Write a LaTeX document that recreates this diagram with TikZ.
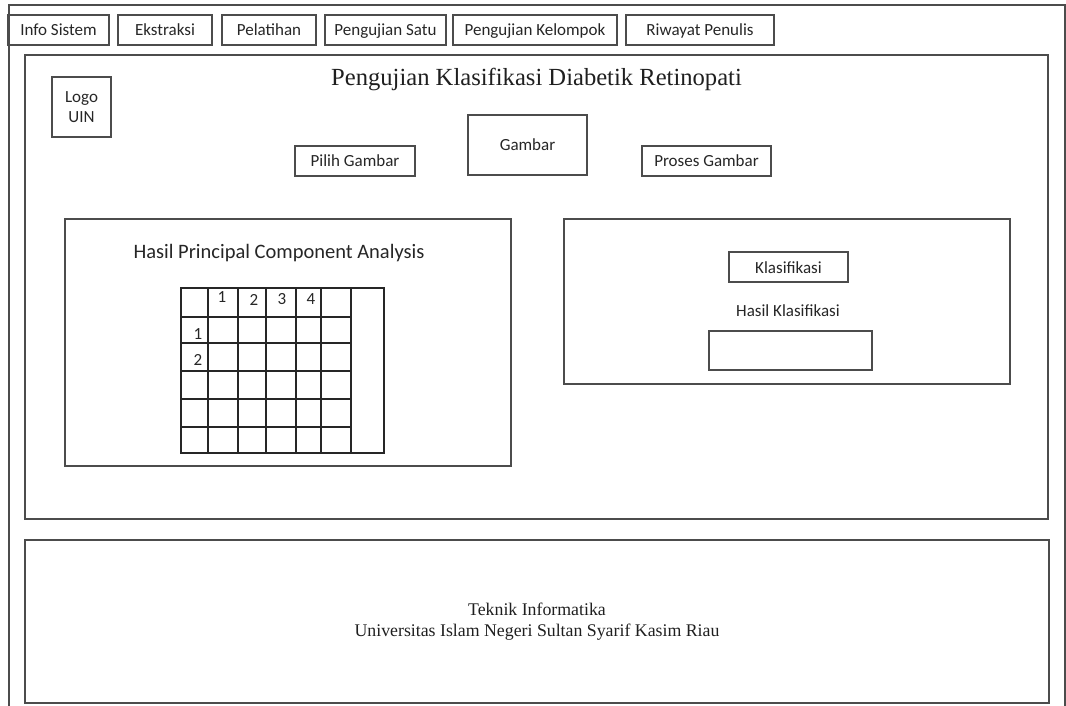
\documentclass[tikz,border=0pt]{standalone}
\usepackage{fontspec}
\setmainfont{Liberation Serif}
\newfontfamily\calibrifont{Carlito}
\begin{document}
\begin{tikzpicture}[x=1pt,y=-1pt,
  line/.style={draw=black!70, line width=1.3pt},
  panel/.style={line, inner sep=0pt},
  btn/.style={line, inner sep=0pt, text height=12pt, text depth=0pt,
    font=\calibrifont\fontsize{17}{20}\selectfont, text=black!85},
  lbl/.style={inner sep=0pt, font=\calibrifont\fontsize{17}{20}\selectfont, text=black!85},
  cell/.style={draw=black!85, line width=1.2pt}
]
\useasboundingbox (0,0) rectangle (1066,706);

% window frame (bottom edge runs past the page)
\draw[line] (9,712) -- (9,5) -- (1065,5) -- (1065,712);

% menu tabs
\node[btn, minimum width=101pt, minimum height=30pt] (tInfo)   at (58.5,30)  {Info Sistem};
\node[btn, minimum width=94pt,  minimum height=30pt] (tEks)    at (165,30)   {Ekstraksi};
\node[btn, minimum width=94pt,  minimum height=30pt] (tLatih)  at (269,30)   {Pelatihan};
\node[btn, minimum width=121pt, minimum height=30pt] (tSatu)   at (385.5,30) {Pengujian Satu};
\node[btn, minimum width=164pt, minimum height=30pt] (tKel)    at (535,30)   {Pengujian Kelompok};
\node[btn, minimum width=148pt, minimum height=30pt] (tRiwayat) at (700,30)  {Riwayat Penulis};

% main content area
\node[panel, minimum width=1023pt, minimum height=464pt] (main) at (536.5,287) {};
\node[anchor=base, inner sep=0pt, font=\fontsize{24.6}{28}\selectfont, text=black!88]
  (title) at (536.5,86) {Pengujian Klasifikasi Diabetik Retinopati};

% logo
\node[line, minimum width=59pt, minimum height=60pt, align=center, inner sep=0pt,
  font=\calibrifont\fontsize{17}{20}\selectfont, text=black!85]
  (logo) at (81.5,107) {Logo\\UIN};

% image selection row
\node[btn, minimum width=120pt, minimum height=30pt] (pilih)  at (355,161)   {Pilih Gambar};
\node[btn, minimum width=119pt, minimum height=60pt] (gambar) at (527.5,145) {Gambar};
\node[btn, minimum width=129pt, minimum height=30pt] (proses) at (706.5,161) {Proses Gambar};

% PCA result panel
\node[panel, minimum width=446pt, minimum height=247pt] (pca) at (288,342.5) {};
\node[anchor=base, inner sep=0pt, font=\calibrifont\fontsize{20.5}{24}\selectfont, text=black!85]
  (pcaTitle) at (279,258) {Hasil Principal Component Analysis};

% PCA table grid
\draw[cell] (181,288) rectangle (384,453);
\foreach \cx in {208,238,266,296,321,351}
  \draw[cell] (\cx,288) -- (\cx,453);
\foreach \ry in {317,343,371,399,427}
  \draw[cell] (181,\ry) -- (351,\ry);
\node[lbl] (c1) at (222,297) {1};
\node[lbl] (c2) at (254,299.5) {2};
\node[lbl] (c3) at (282,299.5) {3};
\node[lbl] (c4) at (311,299.5) {4};
\node[lbl] (r1) at (198,334.5) {1};
\node[lbl] (r2) at (198,360) {2};

% classification panel
\node[panel, minimum width=446pt, minimum height=165pt] (cls) at (787,301.5) {};
\node[btn, minimum width=119pt, minimum height=30pt] (klas) at (788.5,267) {Klasifikasi};
\node[anchor=base, inner sep=0pt, font=\calibrifont\fontsize{17}{20}\selectfont, text=black!85]
  (hasilLbl) at (788,316) {Hasil Klasifikasi};
\node[panel, minimum width=163pt, minimum height=39pt] (hasil) at (790.5,350.5) {};

% footer
\node[panel, minimum width=1024pt, minimum height=163pt, align=center,
  font=\fontsize{17.8}{21}\selectfont, text=black!88]
  (footer) at (537,621.5) {Teknik Informatika\\Universitas Islam Negeri Sultan Syarif Kasim Riau};
\end{tikzpicture}
\end{document}
